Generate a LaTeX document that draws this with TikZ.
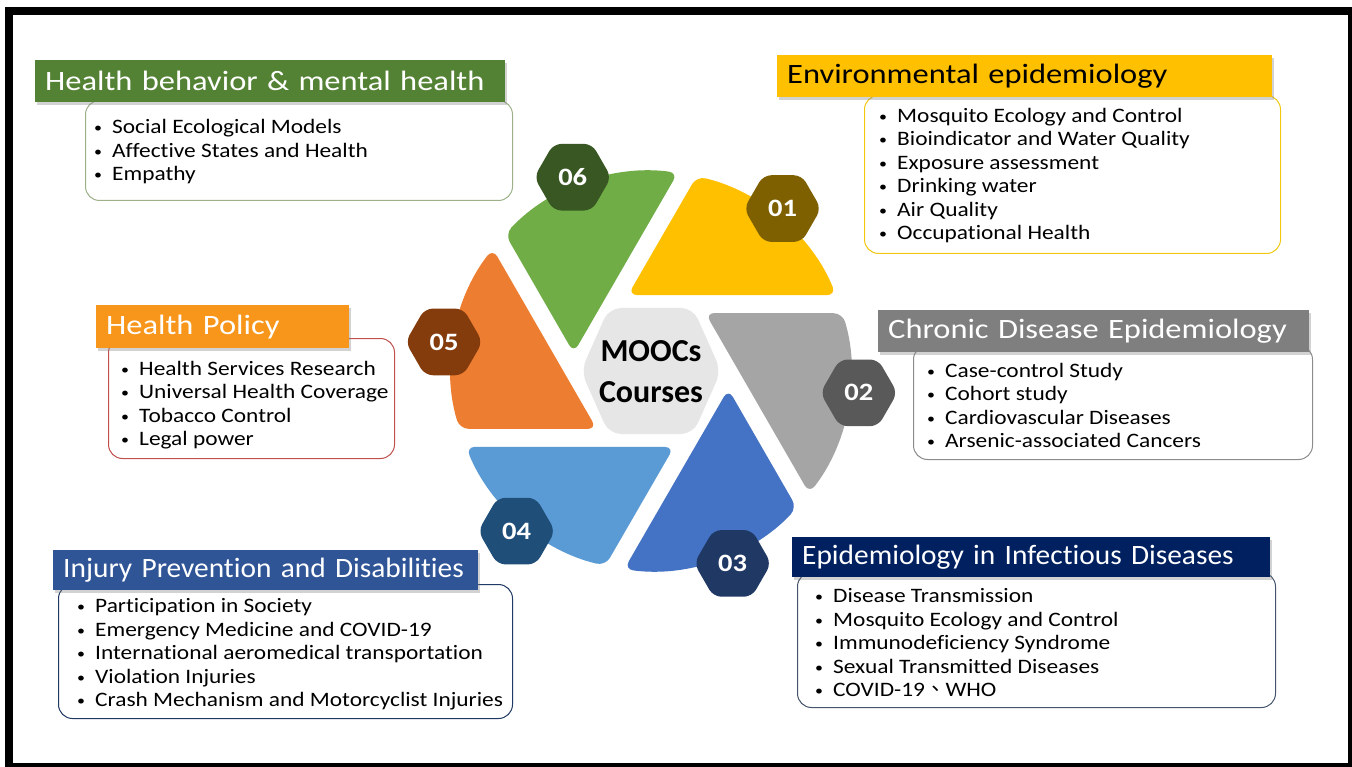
\documentclass[tikz,border=0pt]{standalone}
\usepackage{fontspec}
\setmainfont{Carlito}[RawFeature={-liga;-clig;-calt;-dlig}]
\newfontfamily\wide{Carlito}[FakeStretch=1.14, RawFeature={-liga;-clig;-calt;-dlig}]
\newfontfamily\widest{Carlito}[FakeStretch=1.16, RawFeature={-liga;-clig;-calt;-dlig}]
\newfontfamily\narrow{Carlito}[FakeStretch=1.05, RawFeature={-liga;-clig;-calt;-dlig}]
\newfontfamily\cjk{Noto Sans CJK TC}
\usepackage{tikz}
\usetikzlibrary{positioning,shapes.geometric,shadows}

\definecolor{petYel}{HTML}{FFC000}
\definecolor{petGrn}{HTML}{70AD47}
\definecolor{petOrg}{HTML}{ED7D31}
\definecolor{petLbl}{HTML}{5B9BD5}
\definecolor{petDbl}{HTML}{4472C4}
\definecolor{petGry}{HTML}{A5A5A5}
\definecolor{hexGry}{HTML}{E7E6E6}
\definecolor{bdgYel}{HTML}{7F6000}
\definecolor{bdgGry}{HTML}{595959}
\definecolor{bdgNav}{HTML}{203864}
\definecolor{bdgBlu}{HTML}{1F4E79}
\definecolor{bdgOrg}{HTML}{843C0C}
\definecolor{bdgGrn}{HTML}{385723}
\definecolor{bandGrn}{HTML}{548235}
\definecolor{bandYel}{HTML}{FFC000}
\definecolor{bandGry}{HTML}{7F7F7F}
\definecolor{bandNav}{HTML}{002060}
\definecolor{bandBlu}{HTML}{2F5597}
\definecolor{bandOrg}{HTML}{F7961A}
\definecolor{lineGrn}{HTML}{9DB08A}
\definecolor{lineYel}{HTML}{F2C811}
\definecolor{lineGry}{HTML}{8C8C8C}
\definecolor{lineNav}{HTML}{44546A}
\definecolor{lineBlu}{HTML}{1F3864}
\definecolor{lineOrg}{HTML}{C0504D}

\newcommand\titlefont{\widest\fontsize{28}{30}\selectfont}
\newcommand\itemfont{\wide\fontsize{20.5}{23.4}\selectfont}
\newcommand\badgefont{\wide\fontsize{25}{25}\selectfont\bfseries}
\newcommand\moocfont{\fontsize{32}{41}\selectfont\bfseries}
\newcommand\itm[1]{\makebox[18pt][l]{\raisebox{1pt}{\fontsize{14}{14}\selectfont •}}#1}

\tikzset{
  band/.style={anchor=north west, fill=#1, inner xsep=10pt, inner ysep=0pt,
               minimum height=42pt, align=left, font=\titlefont, text=white,
               drop shadow={shadow xshift=2pt, shadow yshift=-3pt, opacity=.35}},
  body/.style={anchor=north west, draw=#1, line width=1pt, fill=white,
               rounded corners=14pt, inner sep=0pt},
  items/.style={anchor=base west, align=left, inner sep=0pt, font=\itemfont},
  badge/.style={regular polygon, regular polygon sides=6, minimum size=77pt,
                inner sep=0pt, fill=#1, rounded corners=8pt, text=white,
                font=\badgefont}
}

\begin{document}
\begin{tikzpicture}[x=1pt,y=1pt]
\useasboundingbox (0,0) rectangle (1352,-767);
\fill[white] (0,0) rectangle (1352,-767);
\draw[line width=8pt] (9,-11) rectangle (1352,-767);

% aperture
\begin{scope}[shift={(651,-371)}]
\foreach \c [count=\k from 0] in {petYel,petGrn,petOrg,petLbl,petDbl,petGry}
  \fill[\c, rotate=60*\k, rounded corners=9pt] (-23,76) -- (22.3:200)
    arc[start angle=22.3, end angle=76.8, radius=200] -- cycle;
\fill[hexGry, rounded corners=12pt] (-70,0) -- (-42,63) -- (42,63) -- (70,0)
  -- (42,-63) -- (-42,-63) -- cycle;
\node[font=\moocfont, align=center] (moocs) at (0,-1) {MOOCs\\Courses};
\foreach \a/\n/\c in {51/01/bdgYel,354/02/bdgGry,293/03/bdgNav,
                      230/04/bdgBlu,172/05/bdgOrg,112/06/bdgGrn}
  \node[badge=\c] (n\n) at (\a:209) {\n};
\end{scope}

% boxes (item nodes sit on the baseline of their last line)
\node[body=lineYel, minimum width=416pt, minimum height=158pt] (b1) at (864,-95) {};
\node[band=bandYel, text width=475pt, text=black] (t1) at (777,-55) {Environmental epidemiology};
\node[items] (l1) at (879,-239.5) {\itm{Mosquito Ecology and Control}\\
  \itm{Bioindicator and Water Quality}\\ \itm{Exposure assessment}\\
  \itm{Drinking water}\\ \itm{Air Quality}\\ \itm{Occupational Health}};

\node[body=lineGry, minimum width=399pt, minimum height=114pt] (b2) at (913,-345) {};
\node[band=bandGry, text width=411pt] (t2) at (878,-310) {Chronic Disease Epidemiology};
\node[items] (l2) at (927,-447.5) {\itm{Case-control Study}\\ \itm{Cohort study}\\
  \itm{Cardiovascular Diseases}\\ \itm{Arsenic-associated Cancers}};

\node[body=lineNav, minimum width=478pt, minimum height=135pt] (b3) at (797,-572) {};
\node[band=bandNav, text width=458pt, minimum height=40pt,
      font=\narrow\fontsize{28}{30}\selectfont] (t3) at (792,-537) {Epidemiology in Infectious Diseases};
\node[items] (l3) at (815,-696.5) {\itm{Disease Transmission}\\
  \itm{Mosquito Ecology and Control}\\ \itm{Immunodeficiency Syndrome}\\
  \itm{Sexual Transmitted Diseases}\\ \itm{COVID-19{\cjk 、}WHO}};

\node[body=lineBlu, minimum width=454pt, minimum height=134pt] (b4) at (58,-584) {};
\node[band=bandBlu, text width=405pt, minimum height=40pt,
      font=\narrow\fontsize{28}{30}\selectfont] (t4) at (53,-550) {Injury Prevention and Disabilities};
\node[items] (l4) at (77,-706.5) {\itm{Participation in Society}\\
  \itm{Emergency Medicine and COVID-19}\\
  \itm{International aeromedical transportation}\\ \itm{Violation Injuries}\\
  \itm{Crash Mechanism and Motorcyclist Injuries}};

\node[body=lineOrg, minimum width=286pt, minimum height=120pt] (b5) at (108,-338) {};
\node[band=bandOrg, text width=233pt, minimum height=43pt] (t5) at (96,-305) {Health Policy};
\node[items] (l5) at (121,-445.5) {\itm{Health Services Research}\\
  \itm{Universal Health Coverage}\\ \itm{Tobacco Control}\\ \itm{Legal power}};

\node[body=lineGrn, minimum width=427pt, minimum height=100pt] (b6) at (85,-100) {};
\node[band=bandGrn, text width=450pt] (t6) at (35,-60) {Health behavior \& mental health};
\node[items] (l6) at (94,-180.5) {\itm{Social Ecological Models}\\
  \itm{Affective States and Health}\\ \itm{Empathy}};
\end{tikzpicture}
\end{document}
